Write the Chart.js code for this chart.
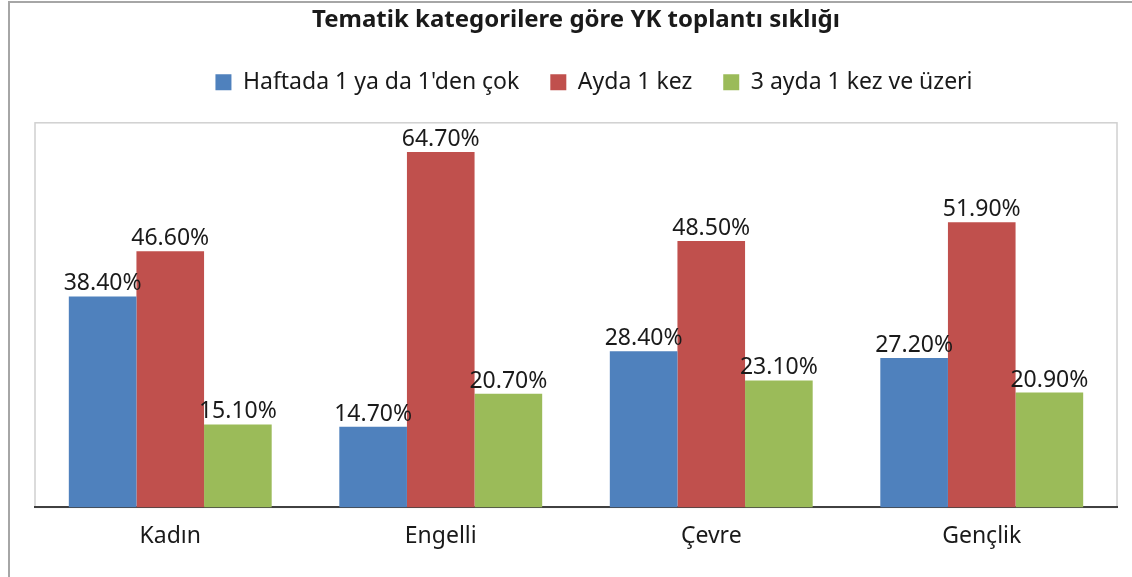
<!DOCTYPE html>
<html>
<head>
<meta charset="utf-8">
<script src="https://cdn.jsdelivr.net/npm/chart.js@4"></script>
<style>
  html, body { margin: 0; padding: 0; background: #fff; }
  #wrap { width: 1132px; height: 577px; position: relative; }
</style>
</head>
<body>
<div id="wrap"><canvas id="chart"></canvas></div>
<script>
const categories = ['Kadın', 'Engelli', 'Çevre', 'Gençlik'];
const seriesNames = ["Haftada 1 ya da 1'den çok", 'Ayda 1 kez', '3 ayda 1 kez ve üzeri'];
const weekly = [38.4, 14.7, 28.4, 27.2];
const monthly = [46.6, 64.7, 48.5, 51.9];
const quarterly = [15.1, 20.7, 23.1, 20.9];
const colors = ['#4f81bd', '#c0504d', '#9bbb59'];

const FONT = '"Noto Sans", sans-serif';
const TEXT = '#1a1a1a';

// kutu çerçeveleri + çubuk üstü etiketler
const frame = {
  id: 'frame',
  beforeInit (chart) {
    // lejant altına boşluk
    const fit = chart.legend.fit;
    chart.legend.fit = function () {
      fit.call(this);
      this.height += 19;
    };
  },
  afterLayout (chart) {
    // lejant biraz sağda duruyor
    chart.legend.left += 18;
    chart.legend.right += 18;
  },
  beforeDraw (chart) {
    const { ctx, chartArea: a } = chart;
    ctx.save();
    ctx.strokeStyle = '#a6a6a6';
    ctx.lineWidth = 2;
    ctx.strokeRect(9, 2, 1140, 600);
    ctx.strokeStyle = '#d0d0d0';
    ctx.lineWidth = 1.5;
    ctx.strokeRect(a.left, a.top, a.right - a.left, a.bottom - a.top);
    ctx.restore();
  },
  afterDatasetsDraw (chart) {
    const { ctx } = chart;
    ctx.save();
    ctx.font = '23px ' + FONT;
    ctx.fillStyle = TEXT;
    ctx.textAlign = 'center';
    ctx.textBaseline = 'alphabetic';
    chart.data.datasets.forEach((ds, i) => {
      chart.getDatasetMeta(i).data.forEach((bar, j) => {
        ctx.fillText(ds.data[j].toFixed(2) + '%', bar.x, bar.y - 6);
      });
    });
    ctx.restore();
  }
};

new Chart(document.getElementById('chart'), {
  type: 'bar',
  data: {
    labels: categories,
    datasets: [
      { label: seriesNames[0], data: weekly, backgroundColor: colors[0] },
      { label: seriesNames[1], data: monthly, backgroundColor: colors[1] },
      { label: seriesNames[2], data: quarterly, backgroundColor: colors[2] }
    ]
  },
  options: {
    responsive: true,
    maintainAspectRatio: false,
    animation: false,
    layout: { padding: { left: 35, right: 15, top: 4, bottom: 20 } },
    datasets: { bar: { categoryPercentage: 0.75, barPercentage: 1 } },
    scales: {
      x: {
        grid: { display: false },
        border: { color: '#404040', width: 2 },
        ticks: { color: TEXT, font: { family: FONT, size: 23 }, padding: 7 }
      },
      y: {
        min: 0,
        max: 70,
        display: false
      }
    },
    plugins: {
      title: {
        display: true,
        text: 'Tematik kategorilere göre YK toplantı sıklığı',
        color: TEXT,
        font: { family: FONT, size: 24, weight: 'bold' },
        padding: { top: 2, bottom: 5 }
      },
      legend: {
        labels: {
          color: TEXT,
          font: { family: FONT, size: 23 },
          boxWidth: 16,
          boxHeight: 16,
          padding: 31
        }
      },
      tooltip: { enabled: false }
    }
  },
  plugins: [frame]
});
</script>
</body>
</html>
